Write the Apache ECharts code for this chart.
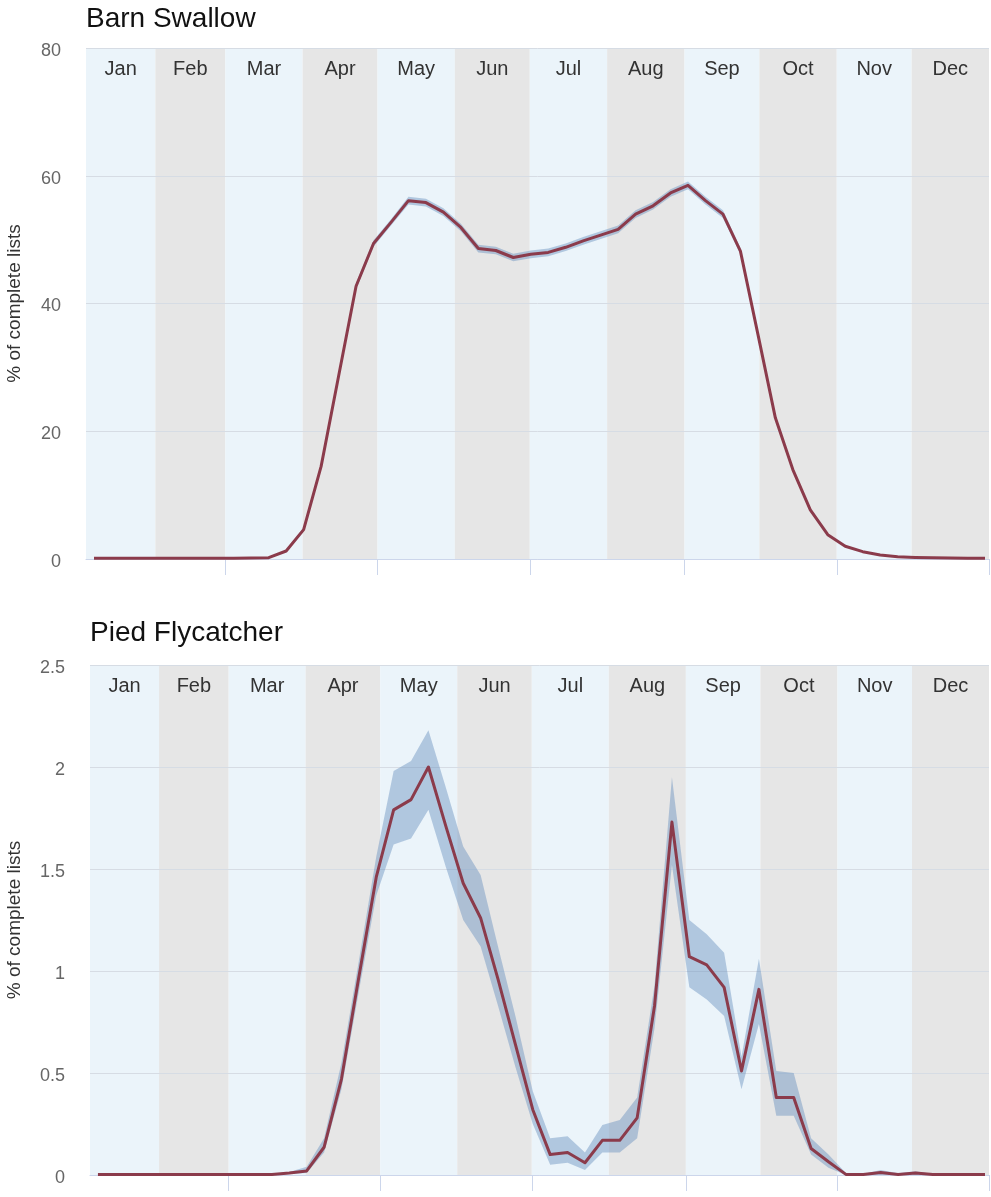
<!DOCTYPE html>
<html>
<head>
<meta charset="utf-8">
<title>Barn Swallow / Pied Flycatcher frequency</title>
<script src="https://cdn.jsdelivr.net/npm/echarts@6.0.0/dist/echarts.min.js"></script>
<style>
  html, body { margin: 0; padding: 0; background: #ffffff; }
  #chart { width: 991px; height: 1197px; }
</style>
</head>
<body>
<div id="chart"></div>
<script>
// Month bands along a day-of-year axis
const months = ['Jan', 'Feb', 'Mar', 'Apr', 'May', 'Jun', 'Jul', 'Aug', 'Sep', 'Oct', 'Nov', 'Dec'];
const monthStartDays = [0, 31, 59, 90, 120, 151, 181, 212, 243, 273, 304, 334, 365];
// x-axis ticks every second month boundary
const tickDays = [59, 120, 181, 243, 304, 365];

// Weekly frequency (% of complete checklists), 52 weeks
const swallowRate = [
  0.1, 0.1, 0.1, 0.1, 0.1, 0.1, 0.1, 0.1, 0.1, 0.15,
  0.2, 1.25, 4.6, 14.5, 28.6, 42.7, 49.4, 52.7, 56.1, 55.8,
  54.3, 51.9, 48.6, 48.3, 47.2, 47.7, 48.0, 48.8, 49.8, 50.7,
  51.6, 54.0, 55.3, 57.3, 58.5, 56.1, 54.0, 48.2, 35.2, 22.1,
  14.0, 7.7, 3.8, 2.0, 1.15, 0.63, 0.37, 0.25, 0.18, 0.14,
  0.12, 0.1
];
const swallowLow = [
  0.05, 0.05, 0.05, 0.05, 0.05, 0.05, 0.05, 0.05, 0.05, 0.1,
  0.15, 1.1, 4.3, 14.0, 28.1, 42.2, 48.9, 52.2, 55.5, 55.2,
  53.7, 51.3, 48.0, 47.7, 46.6, 47.1, 47.4, 48.2, 49.2, 50.1,
  51.0, 53.4, 54.7, 56.7, 57.9, 55.5, 53.4, 47.7, 34.7, 21.7,
  13.7, 7.4, 3.6, 1.85, 1.05, 0.55, 0.3, 0.2, 0.14, 0.1,
  0.08, 0.07
];
const swallowHigh = [
  0.15, 0.15, 0.15, 0.15, 0.15, 0.15, 0.15, 0.15, 0.15, 0.2,
  0.3, 1.4, 4.9, 15.0, 29.1, 43.2, 49.9, 53.2, 56.7, 56.4,
  54.9, 52.5, 49.2, 48.9, 47.8, 48.3, 48.6, 49.4, 50.4, 51.3,
  52.2, 54.6, 55.9, 57.9, 59.1, 56.7, 54.6, 48.7, 35.7, 22.5,
  14.3, 8.0, 4.0, 2.15, 1.25, 0.7, 0.44, 0.3, 0.22, 0.18,
  0.16, 0.13
];

const flyRate = [
  0.003, 0.003, 0.003, 0.003, 0.003, 0.003, 0.003, 0.003, 0.003, 0.003,
  0.003, 0.01, 0.02, 0.136, 0.47, 0.97, 1.46, 1.79, 1.84, 2.0,
  1.71, 1.43, 1.26, 0.96, 0.64, 0.32, 0.10, 0.11, 0.06, 0.17,
  0.17, 0.28, 0.83, 1.73, 1.07, 1.03, 0.92, 0.51, 0.91, 0.38,
  0.38, 0.13, 0.065, 0.003, 0.003, 0.012, 0.003, 0.01, 0.003, 0.003,
  0.003, 0.003
];
const flyLow = [
  0, 0, 0, 0, 0, 0, 0, 0, 0, 0,
  0, 0.005, 0.01, 0.11, 0.42, 0.90, 1.37, 1.62, 1.65, 1.79,
  1.51, 1.25, 1.12, 0.83, 0.53, 0.25, 0.05, 0.06, 0.025, 0.11,
  0.11, 0.18, 0.72, 1.52, 0.92, 0.86, 0.78, 0.42, 0.74, 0.29,
  0.29, 0.10, 0.035, 0, 0, 0, 0, 0, 0, 0,
  0, 0
];
const flyHigh = [
  0.005, 0.005, 0.005, 0.005, 0.005, 0.005, 0.005, 0.005, 0.005, 0.005,
  0.005, 0.015, 0.04, 0.18, 0.55, 1.05, 1.56, 1.98, 2.03, 2.18,
  1.90, 1.61, 1.47, 1.12, 0.78, 0.41, 0.18, 0.19, 0.11, 0.245,
  0.27, 0.38, 0.93, 1.95, 1.25, 1.18, 1.09, 0.58, 1.06, 0.51,
  0.50, 0.18, 0.10, 0.01, 0.005, 0.025, 0.008, 0.018, 0.005, 0.005,
  0.005, 0.005
];

// Axis layout
const AXIS_START = 3.2;   // first visible day of year
const WEEK0 = 6.4;        // day of year of the first weekly value
const FONT = '"Liberation Sans", Arial, Helvetica, sans-serif';
const LINE_COLOR = '#8b3b4b';
const CI_COLOR = 'rgba(105, 145, 190, 0.45)';
const BAND_COLORS = ['#ebf4fa', '#e6e6e6'];

const weekDay = i => WEEK0 + 7 * i;
const toPoints = arr => arr.map((v, i) => [weekDay(i), v]);

const monthData = months.map((m, i) => [monthStartDays[i], monthStartDays[i + 1], i]);

function renderMonth(params, api) {
  const cs = params.coordSys;
  const idx = api.value(2);
  const x0 = Math.max(api.coord([api.value(0), 0])[0], cs.x);
  const x1 = Math.min(api.coord([api.value(1), 0])[0], cs.x + cs.width);
  if (x1 <= x0) return null;
  return {
    type: 'group',
    children: [
      {
        type: 'rect',
        shape: { x: x0, y: cs.y, width: x1 - x0, height: cs.height },
        style: { fill: BAND_COLORS[idx % 2] }
      },
      {
        type: 'text',
        style: {
          text: months[idx],
          x: (x0 + x1) / 2,
          y: cs.y + 21,
          align: 'center',
          verticalAlign: 'middle',
          fill: '#333333',
          fontSize: 20,
          fontFamily: FONT
        }
      }
    ]
  };
}

function monthSeries(k) {
  return {
    type: 'custom',
    xAxisIndex: k, yAxisIndex: k,
    data: monthData,
    encode: { x: [0, 1] },
    renderItem: renderMonth,
    silent: true,
    z: -1
  };
}

// Confidence band: one polygon along the upper bound and back along the lower bound
function ciSeries(k, lo, hi) {
  return {
    type: 'custom',
    xAxisIndex: k, yAxisIndex: k,
    data: [[weekDay(0), lo[0]]],
    silent: true,
    z: 1,
    renderItem: function (params, api) {
      const upper = hi.map((v, i) => api.coord([weekDay(i), v]));
      const lower = lo.map((v, i) => api.coord([weekDay(i), v])).reverse();
      return {
        type: 'polygon',
        shape: { points: upper.concat(lower) },
        style: { fill: CI_COLOR }
      };
    }
  };
}

function rateSeries(k, arr) {
  return {
    type: 'line', xAxisIndex: k, yAxisIndex: k,
    data: toPoints(arr),
    symbol: 'none',
    lineStyle: { color: LINE_COLOR, width: 3, join: 'round' },
    z: 3
  };
}

function xAxisFor(k) {
  return {
    gridIndex: k, type: 'value', min: AXIS_START, max: 365,
    axisLine: { show: true, lineStyle: { color: '#ccd6eb', width: 1 } },
    axisTick: { show: true, customValues: tickDays, length: 16, lineStyle: { color: '#ccd6eb', width: 1 } },
    axisLabel: { show: false },
    splitLine: { show: false }
  };
}

function yAxisFor(k, max, interval, gap) {
  return {
    gridIndex: k, type: 'value', min: 0, max: max, interval: interval,
    name: '% of complete lists',
    nameLocation: 'middle',
    nameRotate: 90,
    nameGap: gap,
    nameTextStyle: { fontSize: 19, color: '#333333', fontFamily: FONT },
    axisLine: { show: false },
    axisTick: { show: false },
    axisLabel: {
      margin: 25,
      formatter: '{v|{value}}',
      rich: { v: { color: '#666666', fontSize: 18, fontFamily: FONT, padding: [6, 0, 0, 0] } }
    },
    splitLine: { show: true, lineStyle: { color: '#d6dce4', width: 1 } }
  };
}

const chart = echarts.init(document.getElementById('chart'), null, { renderer: 'canvas' });
chart.setOption({
  animation: false,
  backgroundColor: '#ffffff',
  textStyle: { fontFamily: FONT },
  title: [
    { text: 'Barn Swallow', left: 86, top: 5, padding: 0,
      textStyle: { fontSize: 28, fontWeight: 'normal', color: '#111111', fontFamily: FONT } },
    { text: 'Pied Flycatcher', left: 90, top: 619, padding: 0,
      textStyle: { fontSize: 28, fontWeight: 'normal', color: '#111111', fontFamily: FONT } }
  ],
  grid: [
    { left: 86, right: 2, top: 48, height: 511, outerBoundsMode: 'none', containLabel: false },
    { left: 90, right: 2, top: 665, height: 510, outerBoundsMode: 'none', containLabel: false }
  ],
  xAxis: [xAxisFor(0), xAxisFor(1)],
  yAxis: [yAxisFor(0, 80, 20, 62), yAxisFor(1, 2.5, 0.5, 66)],
  series: [
    monthSeries(0),
    monthSeries(1),
    ciSeries(0, swallowLow, swallowHigh),
    rateSeries(0, swallowRate),
    ciSeries(1, flyLow, flyHigh),
    rateSeries(1, flyRate)
  ]
});
</script>
</body>
</html>
